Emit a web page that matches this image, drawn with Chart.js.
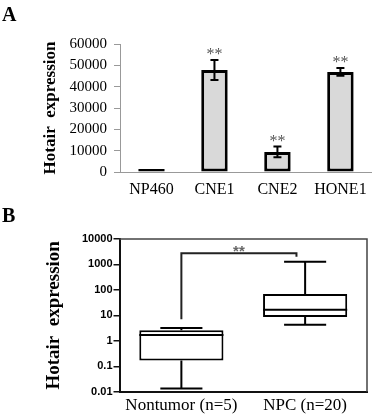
<!DOCTYPE html>
<html>
<head>
<meta charset="utf-8">
<script src="https://cdn.jsdelivr.net/npm/chart.js@4.4.1/dist/chart.umd.min.js"></script>
<style>
  html, body { margin: 0; padding: 0; background: #fff; }
  #wrap { position: relative; width: 375px; height: 420px; overflow: hidden; }
  canvas { position: absolute; left: 0; }
  #cA { top: 0; }
  #cB { top: 200px; }
  .panel { position: absolute; font-family: "Liberation Serif", "Times New Roman", serif; font-weight: bold; font-size: 20px; color: #000; line-height: 1; }
  #pA { left: 2px; top: 4px; }
  #pB { left: 2px; top: 205px; }
</style>
</head>
<body>
<div id="wrap">
  <canvas id="cA" width="375" height="200"></canvas>
  <canvas id="cB" width="375" height="220"></canvas>
  <div class="panel" id="pA">A</div>
  <div class="panel" id="pB">B</div>
</div>
<script>
// ---------- Panel A data ----------
const categoriesA = ['NP460', 'CNE1', 'CNE2', 'HONE1'];
const meansA = [1, 47800, 9400, 46900];
const errorsA = [0, 4700, 2500, 1800];
const sigA = ['', '**', '**', '**'];
const yTicksA = [0, 10000, 20000, 30000, 40000, 50000, 60000];

// ---------- Panel B data ----------
const categoriesB = ['Nontumor (n=5)', 'NPC (n=20)'];
const minB = [0.0135, 4.3];
const q1B = [0.17, 8.6];
const medianB = [1.7, 16.6];
const q3B = [2.6, 69];
const maxB = [3.2, 1290];
const yTicksB = [0.01, 0.1, 1, 10, 100, 1000, 10000];
const bracketValuesB = [7, 2750, 2000]; // left foot, top, right foot
const bracketLabelB = '**';

const SERIF = '"Liberation Serif", "Times New Roman", serif';
const SANS = '"Liberation Sans", Arial, sans-serif';

// ---------- Panel A ----------
const errorBarPlugin = {
  id: 'errorBars',
  afterDatasetsDraw(chart) {
    const ctx = chart.ctx;
    const y = chart.scales.y;
    const meta = chart.getDatasetMeta(0);
    ctx.save();
    meta.data.forEach((bar, i) => {
      const x = bar.x;
      const err = errorsA[i];
      if (err > 0) {
        const yt = y.getPixelForValue(meansA[i] + err);
        const yb = y.getPixelForValue(meansA[i] - err);
        ctx.strokeStyle = '#000';
        ctx.lineWidth = 2;
        ctx.beginPath();
        ctx.moveTo(x, yt); ctx.lineTo(x, yb);
        ctx.moveTo(x - 4, yt); ctx.lineTo(x + 4, yt);
        ctx.moveTo(x - 4, yb); ctx.lineTo(x + 4, yb);
        ctx.stroke();
      }
      if (sigA[i]) {
        const yt = y.getPixelForValue(meansA[i] + err);
        ctx.fillStyle = '#555';
        ctx.font = '16px ' + SERIF;
        ctx.textAlign = 'center';
        ctx.textBaseline = 'alphabetic';
        ctx.fillText(sigA[i], x, yt - 1);
      }
    });
    ctx.restore();
  }
};

new Chart(document.getElementById('cA'), {
  type: 'bar',
  data: {
    labels: categoriesA,
    datasets: [{
      data: meansA,
      backgroundColor: '#d9d9d9',
      borderColor: '#000',
      borderWidth: 3,
      borderSkipped: false,
      minBarLength: 3,
      barPercentage: 0.42,
      categoryPercentage: 1
    }]
  },
  options: {
    responsive: false,
    animation: false,
    events: [],
    layout: { padding: { top: 44, right: 3, bottom: 0, left: 0 } },
    plugins: { legend: { display: false }, tooltip: { enabled: false } },
    scales: {
      x: {
        grid: { display: false, drawTicks: false },
        border: { display: true, color: '#999', width: 1 },
        ticks: { color: '#000', font: { family: SERIF, size: 16 }, padding: 8 },
        afterFit(s) { s.height = 28; }
      },
      y: {
        min: 0, max: 60000,
        afterBuildTicks(s) { s.ticks = yTicksA.map(v => ({ value: v })); },
        grid: { drawOnChartArea: false, drawTicks: true, tickLength: 6, color: '#999' },
        border: { display: true, color: '#999', width: 1 },
        ticks: { color: '#000', font: { family: SERIF, size: 15 }, padding: 7, callback: v => String(v) },
        title: { display: true, text: 'Hotair  expression', color: '#000', font: { family: SERIF, size: 17, weight: 'bold' }, padding: { top: 40, bottom: 0 } },
        afterFit(s) { s.width = 120; }
      }
    }
  },
  plugins: [errorBarPlugin]
});

// ---------- Panel B ----------
const boxPlugin = {
  id: 'boxWhiskers',
  afterDatasetsDraw(chart) {
    const ctx = chart.ctx;
    const y = chart.scales.y;
    const xs = chart.scales.x;
    const area = chart.chartArea;
    const meta = chart.getDatasetMeta(0);
    ctx.save();
    // frame top/right
    ctx.strokeStyle = '#444';
    ctx.lineWidth = 1.5;
    ctx.beginPath();
    ctx.moveTo(area.left, area.top); ctx.lineTo(area.right, area.top); ctx.lineTo(area.right, area.bottom);
    ctx.stroke();

    ctx.strokeStyle = '#000';
    ctx.lineWidth = 2;
    meta.data.forEach((bar, i) => {
      const x = bar.x;
      const hw = bar.width / 2;
      const cw = hw / 2;
      const yMed = y.getPixelForValue(medianB[i]);
      const yQ1 = y.getPixelForValue(q1B[i]);
      const yQ3 = y.getPixelForValue(q3B[i]);
      const yMin = y.getPixelForValue(minB[i]);
      const yMax = y.getPixelForValue(maxB[i]);
      ctx.beginPath();
      ctx.moveTo(x - hw, yMed); ctx.lineTo(x + hw, yMed);
      ctx.moveTo(x, yQ3); ctx.lineTo(x, yMax);
      ctx.moveTo(x - cw, yMax); ctx.lineTo(x + cw, yMax);
      ctx.moveTo(x, yQ1); ctx.lineTo(x, yMin);
      ctx.moveTo(x - cw, yMin); ctx.lineTo(x + cw, yMin);
      ctx.stroke();
    });

    // significance bracket
    const x0 = xs.getPixelForValue(0);
    const x1 = xs.getPixelForValue(1) - (xs.getPixelForValue(1) - xs.getPixelForValue(0)) * 0.07;
    const yL = y.getPixelForValue(bracketValuesB[0]);
    const yT = y.getPixelForValue(bracketValuesB[1]);
    const yR = y.getPixelForValue(bracketValuesB[2]);
    ctx.strokeStyle = '#222';
    ctx.lineWidth = 2;
    ctx.beginPath();
    ctx.moveTo(x0, yL); ctx.lineTo(x0, yT); ctx.lineTo(x1, yT); ctx.lineTo(x1, yR);
    ctx.stroke();
    ctx.fillStyle = '#666';
    ctx.font = 'bold 15px ' + SANS;
    ctx.textAlign = 'center';
    ctx.textBaseline = 'alphabetic';
    ctx.fillText(bracketLabelB, (x0 + x1) / 2, yT + 3);
    ctx.restore();
  }
};

new Chart(document.getElementById('cB'), {
  type: 'bar',
  data: {
    labels: categoriesB,
    datasets: [{
      data: q1B.map((v, i) => [v, q3B[i]]),
      backgroundColor: '#fff',
      borderColor: '#000',
      borderWidth: 2,
      borderSkipped: false,
      barPercentage: 0.68,
      categoryPercentage: 1
    }]
  },
  options: {
    responsive: false,
    animation: false,
    events: [],
    layout: { padding: { top: 39, right: 8, bottom: 0, left: 0 } },
    plugins: { legend: { display: false }, tooltip: { enabled: false } },
    scales: {
      x: {
        grid: { display: false, drawTicks: false },
        border: { display: true, color: '#111', width: 2 },
        ticks: { color: '#000', font: { family: SERIF, size: 17 }, padding: 4 },
        afterFit(s) { s.height = 28.3; }
      },
      y: {
        type: 'logarithmic',
        min: 0.01, max: 10000,
        afterBuildTicks(s) { s.ticks = yTicksB.map(v => ({ value: v })); },
        grid: { drawOnChartArea: false, drawTicks: true, tickLength: 6, color: '#111', lineWidth: 1.5 },
        border: { display: true, color: '#111', width: 2 },
        ticks: { color: '#000', font: { family: SANS, size: 11, weight: 'bold' }, padding: 1, callback: v => String(v) },
        title: { display: true, text: 'Hotair  expression', color: '#000', font: { family: SERIF, size: 19, weight: 'bold' }, padding: { top: 43, bottom: 0 } },
        afterFit(s) { s.width = 119.5; }
      }
    }
  },
  plugins: [boxPlugin]
});
</script>
</body>
</html>
